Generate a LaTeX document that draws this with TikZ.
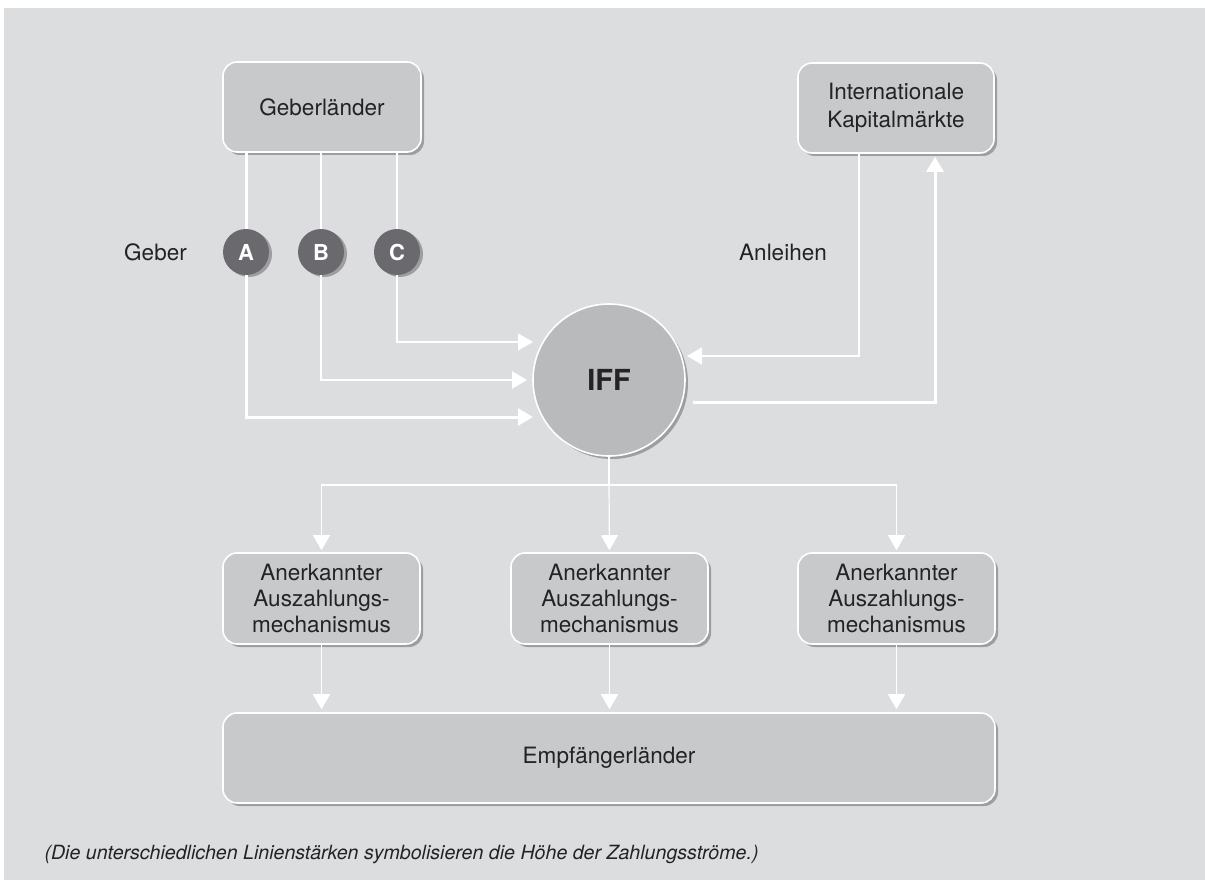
\documentclass[tikz,border=0pt]{standalone}
\usepackage{fontspec}
\setmainfont{TeX Gyre Heros}
\usetikzlibrary{arrows.meta,shadows,calc}
\definecolor{bgc}{RGB}{220,221,223}
\definecolor{boxc}{RGB}{200,201,203}
\definecolor{iffc}{RGB}{185,186,188}
\definecolor{shc}{RGB}{158,158,160}
\definecolor{darkc}{RGB}{106,106,110}
\definecolor{txtc}{RGB}{35,35,35}
\begin{document}
\begin{tikzpicture}[x=1pt,y=-1pt,
  every node/.style={text=txtc, font=\fontsize{22.5}{26}\selectfont},
  boxnode/.style={draw=white, line width=1.6pt, fill=boxc, rounded corners=14pt,
    minimum width=197pt, minimum height=90pt, align=center, inner sep=0pt,
    drop shadow={shadow xshift=3pt, shadow yshift=-3pt, fill=shc, opacity=1}},
  letternode/.style={circle, fill=darkc, minimum size=46pt, inner sep=0pt,
    text=white, font=\fontsize{22}{22}\selectfont\bfseries,
    drop shadow={shadow xshift=3pt, shadow yshift=-2pt, fill=shc, opacity=1}},
  flowA/.style={draw=white, line width=3pt},
  flowB/.style={draw=white, line width=2pt},
  flowC/.style={draw=white, line width=1.2pt},
  arr/.style={-{Triangle[length=15pt,width=17pt]}},
]
\useasboundingbox (0,0) rectangle (1205,880);
\fill[bgc] (4,8) rectangle (1205,880);

% nodes
\node[boxnode, minimum width=198pt] (gl) at (322,107) {Geberländer};
\node[boxnode, minimum width=196pt] (km) at (896,108) {Internationale\\[2pt]Kapitalmärkte};
\node[letternode] (A) at (246,252) {A};
\node[letternode] (B) at (321,252) {B};
\node[letternode] (C) at (397,252) {C};
\node (geber) at (155.5,252) {Geber};
\node (anl) at (783,252) {Anleihen};
\node[circle, draw=white, line width=1.6pt, fill=iffc, minimum size=152pt, inner sep=0pt,
  font=\fontsize{29}{29}\selectfont\bfseries,
  drop shadow={shadow xshift=3pt, shadow yshift=-3pt, fill=shc, opacity=1}] (iff) at (609,380) {IFF};
\node[boxnode, minimum height=91pt] (m1) at (321.5,598.5) {Anerkannter\\Auszahlungs-\\mechanismus};
\node[boxnode, minimum height=91pt] (m2) at (609.5,598.5) {Anerkannter\\Auszahlungs-\\mechanismus};
\node[boxnode, minimum height=91pt] (m3) at (896.5,598.5) {Anerkannter\\Auszahlungs-\\mechanismus};
\node[boxnode, minimum width=772pt] (emp) at (609,758) {Empfängerländer};
\node[anchor=base west, font=\fontsize{19.6}{24}\selectfont\itshape] (note) at (41,859)
  {(Die unterschiedlichen Linienstärken symbolisieren die Höhe der Zahlungsströme.)};

% coordinates near the IFF circle
\coordinate (tA) at (533,417);
\coordinate (tB) at (527,380);
\coordinate (tC) at (533,342);
\coordinate (tK) at (687,356);
\coordinate (oK) at (693,402);
\coordinate (split) at (609,485);

% donor flows
\draw[flowA] (gl.south -| A) -- (A.north);
\draw[flowA, arr] (A.south) |- (tA);
\draw[flowB] (gl.south -| B) -- (B.north);
\draw[flowB, arr] (B.south) |- (tB);
\draw[flowC] (gl.south -| C) -- (C.north);
\draw[flowC, arr] (C.south) |- (tC);

% capital markets
\draw[flowC, arr] ([xshift=-37pt]km.south) |- (tK);
\draw[flowA, arr, shorten >=3pt] (oK) -| ([xshift=39pt]km.south);

% disbursement
\draw[flowC] (iff.south) -- (split);
\draw[flowC, arr, shorten >=2pt] (split) -- (m2.north);
\draw[flowC, arr, shorten >=2pt] (split) -| (m1.north);
\draw[flowC, arr, shorten >=2pt] (split) -| (m3.north);
\draw[flowC, arr, shorten >=3pt] (m1.south) -- (m1.south |- emp.north);
\draw[flowC, arr, shorten >=3pt] (m2.south) -- (m2.south |- emp.north);
\draw[flowC, arr, shorten >=3pt] (m3.south) -- (m3.south |- emp.north);
\end{tikzpicture}
\end{document}
